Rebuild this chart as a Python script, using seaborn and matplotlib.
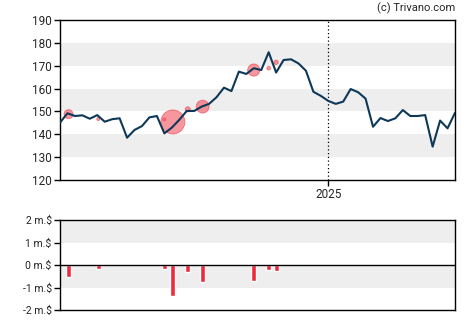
import numpy as np
import pandas as pd
import matplotlib
matplotlib.use("Agg")
import matplotlib.pyplot as plt
import seaborn as sns

# ---- data ----
start_date = "2024-04-24"
prices = [145.1, 149.2, 148.0, 148.3, 146.8, 148.4, 145.5, 146.6, 147.0, 138.5,
          141.9, 143.6, 147.4, 148.0, 140.4, 142.9, 146.3, 150.2, 150.2, 152.1,
          153.3, 156.2, 160.4, 158.9, 167.4, 166.4, 168.9, 168.1, 175.9, 167.0,
          172.5, 172.8, 171.0, 167.8, 158.6, 156.8, 154.6, 153.3, 154.3, 159.8,
          158.4, 155.6, 143.3, 147.1, 145.8, 147.0, 150.6, 148.0, 148.0, 148.4,
          134.6, 146.0, 142.6, 149.4]
trade_dates = ["2024-05-02", "2024-05-30", "2024-07-31", "2024-08-08", "2024-08-22",
               "2024-09-05", "2024-10-23", "2024-11-06", "2024-11-13"]
trade_prices = [148.8, 146.7, 146.5, 145.4, 150.9, 152.1, 168.1, 168.9, 171.5]
trade_amounts_m = [-0.52, -0.18, -0.18, -1.38, -0.30, -0.74, -0.70, -0.21, -0.25]

price_ticks = [120, 130, 140, 150, 160, 170, 180, 190]
price_bands = [(130, 140), (150, 160), (170, 180)]
amount_ticks = [-2, -1, 0, 1, 2]
amount_labels = ["-2 m.$", "-1 m.$", "0 m.$", "1 m.$", "2 m.$"]
amount_bands = [(-1, 0), (1, 2)]
year_tick = "2025-01-01"
year_label = "2025"
credit = "(c) Trivano.com"

# ---- frames ----
dates = pd.date_range(start_date, periods=len(prices), freq="7D")
df = pd.DataFrame({"date": dates, "price": prices})
tr = pd.DataFrame({"date": pd.to_datetime(trade_dates), "price": trade_prices,
                   "amount": trade_amounts_m})
tr["size"] = tr["amount"] ** 2

sns.set_style("white")
plt.rcParams["font.family"] = ["Roboto", "DejaVu Sans"]

fig = plt.figure(figsize=(4.7, 3.25), dpi=100)
ax1 = fig.add_axes([60 / 470, 1 - 180 / 325, 395 / 470, 160 / 325])
ax2 = fig.add_axes([60 / 470, 1 - 310 / 325, 395 / 470, 90 / 325])

xmin, xmax = dates[0], dates[-1]

# top chart
for lo, hi in price_bands:
    ax1.axhspan(lo, hi, color="#eeeeee", lw=0, zorder=0)
smax = tr["size"].max()
sns.scatterplot(data=tr, x="date", y="price", size="size", sizes=(0, 157 * smax),
                size_norm=(0, smax), color="#f0505c", alpha=0.6, edgecolor="#ee3344",
                linewidth=0.6, legend=False, ax=ax1, zorder=2)
sns.lineplot(data=df, x="date", y="price", color="#0e3858", lw=1.5, ax=ax1, zorder=3)
ax1.axvline(pd.Timestamp(year_tick), color="black", ls=(0, (1, 2)), lw=0.9, zorder=1)
ax1.set_xlim(xmin, xmax)
ax1.set_ylim(price_ticks[0], price_ticks[-1])
ax1.set_yticks(price_ticks)
ax1.set_xticks([pd.Timestamp(year_tick)])
ax1.set_xticklabels([year_label])
ax1.set_xlabel("")
ax1.set_ylabel("")
ax1.tick_params(axis="both", direction="out", length=4, width=1, color="black",
                labelsize=8.5, pad=2, left=True, bottom=True)
for s in ax1.spines.values():
    s.set_color("black")
    s.set_linewidth(1)

# bottom chart
for lo, hi in amount_bands:
    ax2.axhspan(lo, hi, color="#eeeeee", lw=0, zorder=0)
ax2.bar(tr["date"], tr["amount"], width=4.5, color="#ee2b3e", zorder=2)
ax2.axhline(0, color="black", lw=1, zorder=3)
ax2.set_xlim(xmin, xmax)
ax2.set_ylim(amount_ticks[0], amount_ticks[-1])
ax2.set_yticks(amount_ticks)
ax2.set_yticklabels(amount_labels)
ax2.set_xticks([])
ax2.tick_params(axis="y", direction="out", length=4, width=1, color="black",
                labelsize=7.5, pad=2, left=True)
for s in ax2.spines.values():
    s.set_color("black")
    s.set_linewidth(1)

fig.text(455 / 470, 1 - 8 / 325, credit, ha="right", va="center", fontsize=8)

fig.savefig("out.png", dpi=100)
